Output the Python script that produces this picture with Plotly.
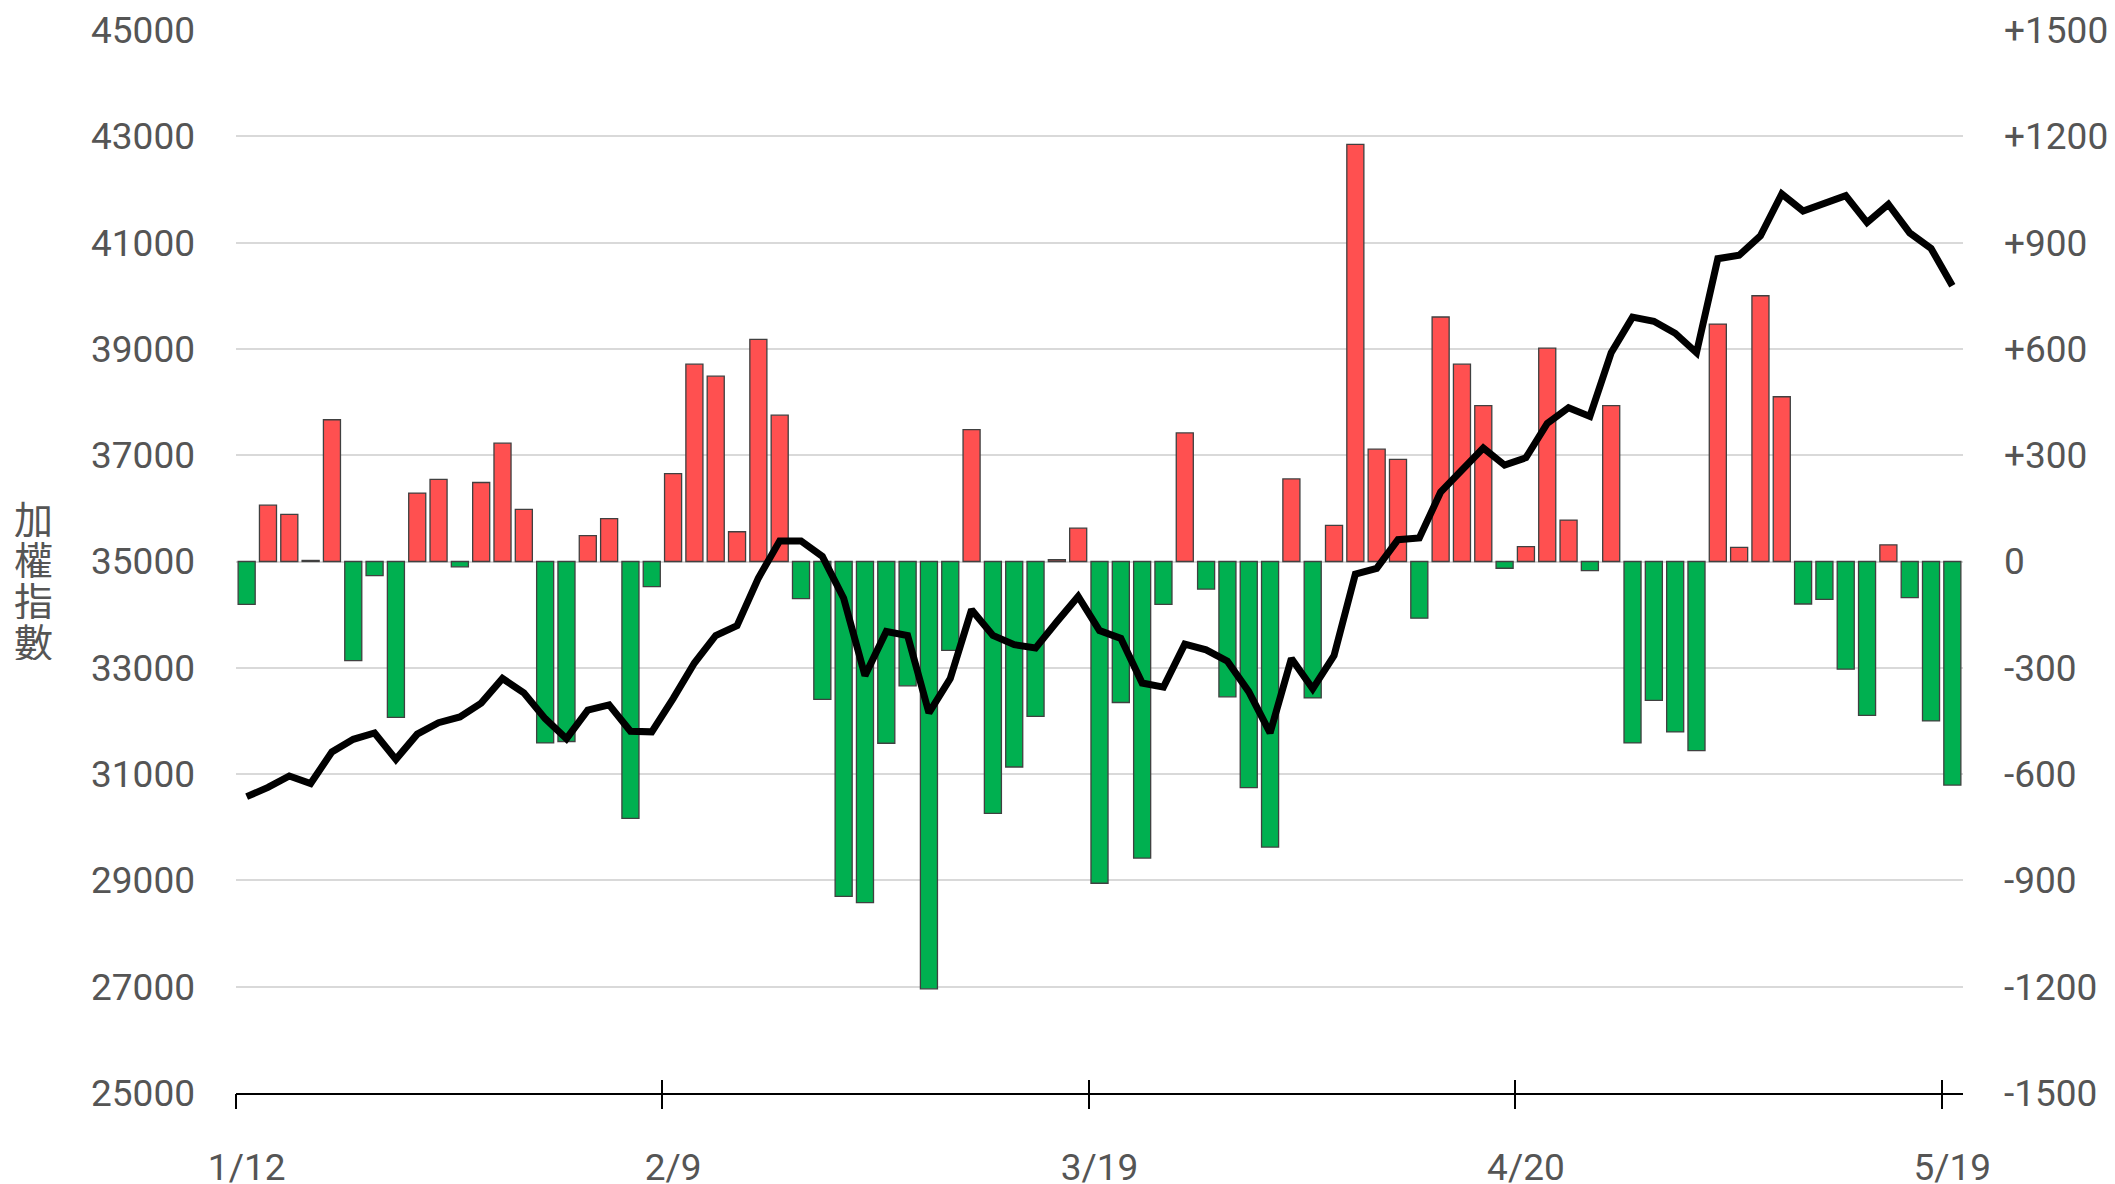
import plotly.graph_objects as go

# ---- data ----
dates = [
    "1/12", "1/13", "1/14", "1/15", "1/16", "1/19", "1/20", "1/21", "1/22", "1/23",
    "1/26", "1/27", "1/28", "1/29", "1/30", "2/2", "2/3", "2/4", "2/5", "2/6",
    "2/9", "2/10", "2/11", "2/23", "2/24", "2/25", "2/26", "3/2", "3/3", "3/4",
    "3/5", "3/6", "3/9", "3/10", "3/11", "3/12", "3/13", "3/16", "3/17", "3/18",
    "3/19", "3/20", "3/23", "3/24", "3/25", "3/26", "3/27", "3/30", "3/31", "4/1",
    "4/2", "4/7", "4/8", "4/9", "4/10", "4/13", "4/14", "4/15", "4/16", "4/17",
    "4/20", "4/21", "4/22", "4/23", "4/24", "4/27", "4/28", "4/29", "4/30", "5/4",
    "5/5", "5/6", "5/7", "5/8", "5/11", "5/12", "5/13", "5/14", "5/15", "5/18",
    "5/19",
]

change = [
    -121, 159, 133, 3, 400, -280, -40, -440, 193, 232,
    -15, 223, 334, 147, -512, -508, 73, 121, -725, -71,
    248, 557, 523, 84, 627, 413, -105, -389, -945, -963,
    -513, -351, -1206, -251, 372, -711, -580, -437, 5, 94,
    -908, -398, -837, -121, 363, -78, -382, -638, -806, 233,
    -385, 102, 1177, 317, 288, -160, 690, 557, 440, -19,
    42, 602, 117, -26, 440, -512, -392, -481, -534, 670,
    40, 750, 465, -120, -107, -304, -434, 47, -102, -450,
    -631,
]

index_close = [
    30576, 30749, 30965, 30824, 31418, 31655, 31774, 31277, 31752, 31968,
    32076, 32335, 32799, 32529, 32044, 31666, 32205, 32302, 31806, 31795,
    32421, 33090, 33608, 33792, 34687, 35388, 35388, 35097, 34309, 32853,
    33684, 33608, 32151, 32799, 34094, 33608, 33435, 33371, 33867, 34342,
    33700, 33554, 32713, 32637, 33446, 33338, 33123, 32551, 31774, 33176,
    32605, 33230, 34763, 34871, 35410, 35442, 36306, 36737, 37136, 36813,
    36953, 37600, 37892, 37730, 38928, 39597, 39521, 39294, 38928, 40697,
    40762, 41129, 41916, 41593, 41755, 41884, 41377, 41722, 41183, 40891,
    40190,
]

x_tick_labels = ["1/12", "2/9", "3/19", "4/20", "5/19"]
left_ticks = [25000, 27000, 29000, 31000, 33000, 35000, 37000, 39000, 41000, 43000, 45000]
right_ticks = [-1500, -1200, -900, -600, -300, 0, 300, 600, 900, 1200, 1500]
right_tick_text = ["-1500", "-1200", "-900", "-600", "-300", "0",
                   "+300", "+600", "+900", "+1200", "+1500"]
y_title = "加權指數"

# ---- styles ----
RED = "#FF5050"
GREEN = "#00B050"
TXT = "#555555"
FONT = "Roboto, 'Noto Sans CJK TC', sans-serif"
FS = 37

bar_colors = [RED if v >= 0 else GREEN for v in change]
n = len(dates)
boundaries = [dates.index(lbl) - 0.5 for lbl in x_tick_labels]

fig = go.Figure()
fig.add_trace(go.Bar(
    x=dates, y=change, yaxis="y", xaxis="x",
    marker=dict(color=bar_colors, line=dict(color="#404040", width=1.3)),
    width=0.8, showlegend=False, hoverinfo="x+y",
))
fig.add_trace(go.Scatter(
    x=dates, y=index_close, yaxis="y2", xaxis="x",
    mode="lines", line=dict(color="black", width=7),
    showlegend=False,
))
# empty helper traces so the tick-only overlay axes get drawn
for ax in ("x2", "x3"):
    fig.add_trace(go.Scatter(x=[], y=[], xaxis=ax, yaxis="y",
                             showlegend=False, hoverinfo="skip"))

for i, ch in enumerate(y_title):
    fig.add_annotation(
        text=ch, x=0, xref="paper", y=0.5, yref="paper",
        xshift=-203, yshift=(1.5 - i) * 41 - 16.5,
        xanchor="center", yanchor="middle", showarrow=False,
        height=40,
        font=dict(family="'Noto Sans CJK TC', sans-serif", size=39, color=TXT),
    )

axis_range = [-0.5, n - 0.5]

fig.update_layout(
    template="none",
    width=2107, height=1176,
    margin=dict(l=228, r=152, t=22, b=91, pad=0),
    paper_bgcolor="white", plot_bgcolor="white",
    font=dict(family=FONT, size=FS, color=TXT),
    bargap=0.2,
    xaxis=dict(
        type="category", range=axis_range,
        tickmode="array", tickvals=x_tick_labels, ticktext=x_tick_labels,
        ticks="", showgrid=False, zeroline=False,
        showline=True, linecolor="black", linewidth=2,
        tickfont=dict(family=FONT, size=FS, color=TXT),
        ticklabelstandoff=41, automargin=False,
    ),
    xaxis2=dict(
        overlaying="x", anchor="y", side="bottom", type="linear",
        range=axis_range, tickmode="array", tickvals=boundaries,
        ticks="outside", ticklen=15, tickwidth=1.5, tickcolor="black",
        showticklabels=False, showgrid=False, zeroline=False, showline=False,
        automargin=False,
    ),
    xaxis3=dict(
        overlaying="x", anchor="y", side="bottom", type="linear",
        range=axis_range, tickmode="array", tickvals=boundaries,
        ticks="inside", ticklen=13, tickwidth=1.5, tickcolor="black",
        showticklabels=False, showgrid=False, zeroline=False, showline=False,
        automargin=False,
    ),
    yaxis=dict(
        side="right", range=[right_ticks[0], right_ticks[-1]],
        tickmode="array", tickvals=right_ticks, ticktext=right_tick_text,
        showgrid=True, gridcolor="#d9d9d9", gridwidth=1.5,
        zeroline=False, showline=False, ticks="",
        tickfont=dict(family=FONT, size=FS, color=TXT),
        ticklabelstandoff=40, automargin=False,
    ),
    yaxis2=dict(
        overlaying="y", side="left", range=[left_ticks[0], left_ticks[-1]],
        tickmode="array", tickvals=left_ticks, tickformat="d",
        showgrid=False, zeroline=False, showline=False, ticks="",
        tickfont=dict(family=FONT, size=FS, color=TXT),
        ticklabelstandoff=40, automargin=False,
    ),
)

fig.write_html("out.html")
